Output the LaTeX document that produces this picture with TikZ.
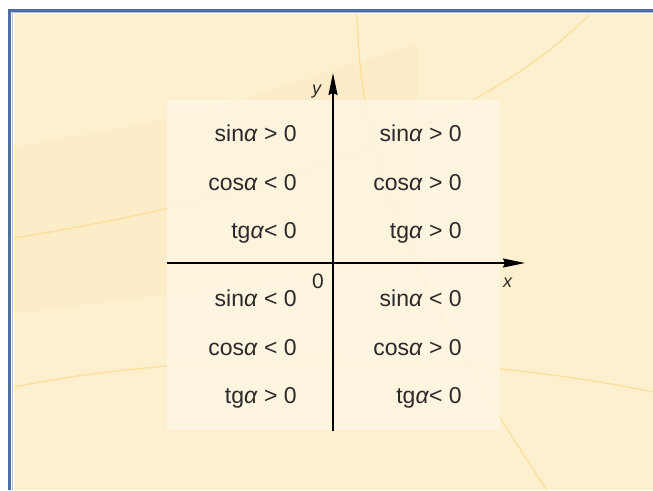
\documentclass[tikz,border=0pt]{standalone}
\usepackage{fontspec}
\setmainfont{Liberation Sans}
\usepackage{tikz}
\usetikzlibrary{arrows.meta,positioning}
\definecolor{cpage}{HTML}{FDF0CF}
\definecolor{cband}{HTML}{FCECC7}
\definecolor{cpanel}{HTML}{FEF6E3}
\definecolor{carc}{HTML}{FBDA8A}
\definecolor{cframe}{HTML}{4C6DA6}
\definecolor{cframein}{HTML}{A9BBDA}
\definecolor{cink}{HTML}{2A2A2A}
\newcommand{\al}{\textit{α}}
\tikzset{
  sgn/.style={inner sep=0pt, text=cink, font=\fontsize{23}{26}\selectfont, anchor=base east},
  axlbl/.style={inner sep=0pt, text=cink, font=\fontsize{18}{20}\selectfont},
  axisln/.style={-{Stealth[length=22pt, width=9pt, inset=2pt]}, line width=1.6pt, draw=black},
  arcln/.style={draw=carc, line width=1.3pt, opacity=0.7},
  frameln/.style={draw=cframe, line width=3pt},
}
\begin{document}
\begin{tikzpicture}[x=1pt,y=-1pt]
\useasboundingbox (0,0) rectangle (653,490);
% page and frame
\fill[cpage] (14,14) rectangle (653,490);
\fill[cband] (14,147) .. controls (200,115) .. (417,43) -- (417,263) -- (14,313) -- cycle;
\draw[arcln] (14,238) .. controls (250,200) and (470,135) .. (590,14);
\draw[arcln] (14,387) .. controls (200,350) and (450,350) .. (653,392);
\draw[arcln] (357,14) .. controls (360,170) and (420,300) .. (547,490);
\draw[frameln] (9.5,490) -- (9.5,10) -- (653,10);
\draw[cframein, line width=1pt] (12,490) -- (12,12.5) -- (653,12.5);
% sign table
\fill[cpanel, opacity=0.85] (167,100) rectangle (500,430);
\coordinate (xl) at (167,263);
\coordinate (xr) at (525,263);
\coordinate (yb) at (333,431);
\coordinate (yt) at (333,73);
\draw[axisln] (xl) -- (xr);
\draw[axisln] (yb) -- (yt);
\node[axlbl] (ylab) at (317,92) {\textit{y}};
\node[axlbl] (xlab) at (508,283) {\textit{x}};
\node[axlbl, font=\fontsize{21}{24}\selectfont] (orig) at (318,281) {0};
\foreach \i/\y/\tl/\tr in {1/133/sin\al{} > 0/sin\al{} > 0,
                           2/182/cos\al{} < 0/cos\al{} > 0,
                           3/230/tg\al< 0/tg\al{} > 0,
                           4/298/sin\al{} < 0/sin\al{} < 0,
                           5/347/cos\al{} < 0/cos\al{} > 0,
                           6/395/tg\al{} > 0/tg\al< 0} {
  \node[sgn] (l\i) at (297,\y+8.5) {\tl};
  \node[sgn] (r\i) at (462,\y+8.5) {\tr};
}
\end{tikzpicture}
\end{document}
